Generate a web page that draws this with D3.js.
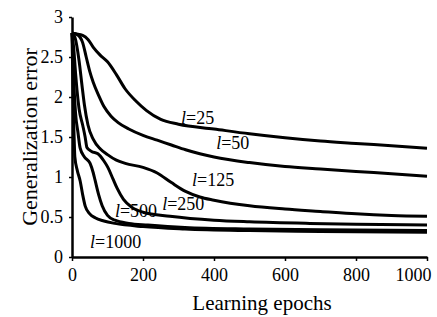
<!DOCTYPE html>
<html>
<head>
<meta charset="utf-8">
<script src="https://cdn.jsdelivr.net/npm/d3@7"></script>
<style>
  body { margin: 0; background: #fff; }
  svg, svg text { font-family: "Liberation Serif", "Times New Roman", "Liberation Sans", sans-serif; }
</style>
</head>
<body>
<div id="chart"></div>
<script>
// curve data: [epoch, error]
const l25 = [[0,2.8],[10,2.79],[30,2.77],[45,2.72],[60,2.62],[80,2.52],[100,2.44],[125,2.28],[150,2.1],[180,1.95],[210,1.83],[250,1.72],[300,1.66],[400,1.6],[500,1.54],[600,1.49],[700,1.45],[800,1.42],[900,1.39],[1000,1.36]];
const l50 = [[0,2.8],[15,2.78],[30,2.68],[40,2.5],[50,2.32],[60,2.18],[75,2.02],[90,1.88],[110,1.76],[130,1.68],[160,1.6],[200,1.52],[240,1.46],[280,1.4],[320,1.34],[360,1.29],[400,1.25],[500,1.18],[600,1.13],[700,1.1],[800,1.07],[900,1.04],[1000,1.01]];
const l125 = [[0,2.8],[8,2.75],[20,2.45],[28,2.15],[35,1.9],[45,1.65],[60,1.47],[80,1.35],[100,1.28],[125,1.21],[150,1.17],[200,1.12],[240,1.05],[280,0.93],[320,0.82],[360,0.75],[400,0.71],[500,0.64],[600,0.6],[700,0.57],[800,0.54],[900,0.52],[1000,0.51]];
const l250 = [[0,2.8],[5,2.6],[10,2.3],[14,2.09],[20,1.85],[30,1.65],[37,1.5],[42,1.37],[55,1.32],[73,1.29],[90,1.2],[101,1.12],[115,0.98],[127,0.86],[145,0.72],[169,0.62],[200,0.56],[276,0.51],[400,0.46],[500,0.44],[670,0.42],[800,0.41],[1000,0.4]];
const l500 = [[0,2.8],[3,2.5],[6,2.1],[10,1.8],[17,1.55],[23,1.36],[35,1.25],[51,1.17],[60,1.05],[65,0.96],[75,0.78],[85,0.64],[100,0.52],[121,0.46],[160,0.42],[214,0.4],[318,0.37],[500,0.35],[700,0.34],[1000,0.33]];
const l1000 = [[0,2.8],[2,2.3],[4,1.8],[6,1.5],[8,1.25],[15,1.08],[23,0.95],[30,0.78],[37,0.64],[50,0.54],[65,0.49],[90,0.45],[121,0.42],[200,0.38],[318,0.35],[500,0.33],[700,0.32],[1000,0.31]];

const seriesNames = ["l=25", "l=50", "l=125", "l=250", "l=500", "l=1000"];
const seriesData = [l25, l50, l125, l250, l500, l1000];
// label anchor in data units (left x, baseline y)
const labelPos = [[307,1.66],[406,1.35],[338,0.89],[254,0.59],[121,0.5],[51,0.11]];

const xTicks = [0, 200, 400, 600, 800, 1000];
const yTicks = [0, 0.5, 1, 1.5, 2, 2.5, 3];

const width = 437, height = 317;
const margin = {top: 17, right: 10, bottom: 60, left: 72};
const fontList = "Liberation Serif, Times New Roman, Liberation Sans, sans-serif";

const svg = d3.select("#chart").append("svg")
	.attr("width", width)
	.attr("height", height);

const x = d3.scaleLinear().domain([0, 1000]).range([margin.left, width - margin.right]);
const y = d3.scaleLinear().domain([0, 3]).range([height - margin.bottom, margin.top]);

const line = d3.line()
	.x(d => x(d[0]))
	.y(d => y(d[1]))
	.curve(d3.curveMonotoneX);

// curves
svg.append("g")
	.selectAll("path")
	.data(seriesData)
	.join("path")
	.attr("d", line)
	.attr("fill", "none")
	.attr("stroke", "#000")
	.attr("stroke-width", 3)
	.attr("stroke-linejoin", "round");

// axes
const xAxis = svg.append("g")
	.attr("transform", `translate(0,${y(0)})`)
	.call(d3.axisBottom(x).tickValues(xTicks).tickSize(4).tickSizeOuter(0).tickPadding(7).tickFormat(d3.format("d")));
const yAxis = svg.append("g")
	.attr("transform", `translate(${x(0)},0)`)
	.call(d3.axisLeft(y).tickValues(yTicks).tickSize(3).tickSizeOuter(0).tickPadding(6).tickFormat(d3.format("")));

[xAxis, yAxis].forEach(a => {
	a.attr("font-family", fontList).attr("font-size", 18);
	a.select(".domain").attr("stroke", "#000").attr("stroke-width", 2.5);
	a.selectAll(".tick line").attr("stroke", "#000").attr("stroke-width", 1.5);
	a.selectAll("text").attr("fill", "#000");
});
// last x label sits flush with the right edge, as in the original
xAxis.selectAll(".tick text")
	.filter(d => d === 1000)
	.attr("text-anchor", "end")
	.attr("dx", 4);

// series labels
const labels = svg.append("g")
	.attr("font-family", fontList)
	.selectAll("text")
	.data(seriesNames)
	.join("text")
	.attr("x", (d, i) => x(labelPos[i][0]))
	.attr("y", (d, i) => y(labelPos[i][1]))
	.attr("font-size", 18)
	.attr("fill", "#000");
labels.append("tspan").attr("font-style", "italic").text("l");
labels.append("tspan").text(d => d.slice(1));

// axis titles
svg.append("text")
	.attr("x", 262)
	.attr("y", 310)
	.attr("text-anchor", "middle")
	.attr("font-family", fontList)
	.attr("font-size", 21)
	.text("Learning epochs");

svg.append("text")
	.attr("transform", "translate(37,137) rotate(-90)")
	.attr("text-anchor", "middle")
	.attr("font-family", fontList)
	.attr("font-size", 22)
	.text("Generalization error");
</script>
</body>
</html>
